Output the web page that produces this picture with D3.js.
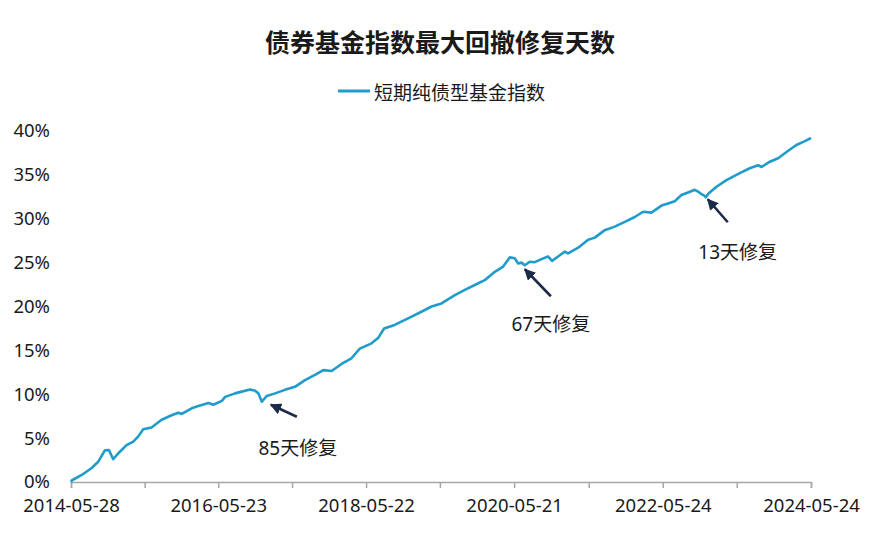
<!DOCTYPE html>
<html><head><meta charset="utf-8">
<script src="https://cdn.jsdelivr.net/npm/d3@7"></script>
<style>body{margin:0;background:#fff;}svg{display:block;}</style>
</head><body>
<script>
const titleText = "债券基金指数最大回撤修复天数";
const seriesName = "短期纯债型基金指数";
const dates = ["2014-05-28","2014-06-02","2014-07-20","2014-09-07","2014-10-09","2014-11-11","2014-12-01","2014-12-22","2015-01-24","2015-02-26","2015-03-31","2015-04-25","2015-05-19","2015-06-29","2015-08-18","2015-10-06","2015-11-08","2015-11-25","2016-01-13","2016-02-15","2016-04-05","2016-04-29","2016-06-10","2016-06-26","2016-08-14","2016-09-16","2016-10-27","2016-11-21","2016-12-07","2016-12-24","2017-01-17","2017-02-27","2017-04-17","2017-06-05","2017-07-25","2017-09-12","2017-10-23","2017-12-03","2018-01-21","2018-03-11","2018-04-21","2018-06-18","2018-07-20","2018-08-19","2018-10-10","2018-12-15","2019-02-19","2019-04-10","2019-05-29","2019-08-03","2019-09-21","2019-11-09","2019-12-28","2020-02-16","2020-03-28","2020-04-30","2020-05-24","2020-06-10","2020-06-26","2020-07-13","2020-08-06","2020-08-31","2020-10-03","2020-11-04","2020-11-24","2020-12-24","2021-01-26","2021-02-11","2021-04-02","2021-05-21","2021-06-23","2021-08-11","2021-09-29","2021-11-18","2022-01-06","2022-02-16","2022-03-29","2022-05-18","2022-06-19","2022-07-22","2022-08-24","2022-09-26","2022-10-29","2022-11-14","2022-12-01","2022-12-17","2022-12-22","2023-01-06","2023-02-13","2023-04-03","2023-06-08","2023-07-27","2023-09-06","2023-09-23","2023-11-03","2023-12-14","2024-01-24","2024-03-13","2024-04-24","2024-05-24"];
const values = [0.0,0.2,0.8,1.6,2.3,3.6,3.65,2.6,3.45,4.2,4.6,5.2,6.0,6.2,7.1,7.6,7.9,7.75,8.4,8.65,9.0,8.8,9.25,9.7,10.1,10.3,10.55,10.4,10.1,9.15,9.8,10.1,10.5,10.85,11.6,12.2,12.75,12.65,13.45,14.1,15.2,15.8,16.4,17.5,17.9,18.65,19.4,20.0,20.35,21.3,21.9,22.45,23.0,23.95,24.55,25.6,25.5,24.9,25.0,24.7,25.1,25.05,25.4,25.7,25.2,25.7,26.25,26.05,26.7,27.6,27.85,28.7,29.1,29.65,30.2,30.8,30.7,31.5,31.75,32.0,32.7,33.0,33.3,33.1,32.8,32.6,32.45,32.9,33.65,34.4,35.2,35.75,36.1,35.9,36.5,36.9,37.6,38.4,38.85,39.2];
const xTickDates = ["2014-05-28","2015-05-26","2016-05-23","2017-05-22","2018-05-22","2019-05-21","2020-05-21","2021-05-24","2022-05-24","2023-05-24","2024-05-24"];
const xTickLabels = ["2014-05-28","","2016-05-23","","2018-05-22","","2020-05-21","","2022-05-24","","2024-05-24"];
const yTicks = [0,5,10,15,20,25,30,35,40];
const annDates = ["2016-12-24","2020-07-13","2022-12-22"];
const annValues = [9.15,24.7,32.45];
const annLabels = ["85天修复","67天修复","13天修复"];

const W = 880, H = 536;
const m = {left:71, right:69, top:131, bottom:54};
const parse = d3.timeParse("%Y-%m-%d");
const font = "'Noto Sans','Noto Sans CJK SC',sans-serif";
const cjk = "'Noto Sans CJK SC','Noto Sans',sans-serif";

const svg = d3.select("body").append("svg").attr("width",W).attr("height",H);

const x = d3.scaleTime().domain([parse(dates[0]), parse(dates[dates.length-1])]).range([m.left, W-m.right]);
const y = d3.scaleLinear().domain([0,40]).range([H-m.bottom, m.top]);

svg.append("text").attr("x",440).attr("y",41).attr("text-anchor","middle").attr("dominant-baseline","central")
  .style("font-family",cjk).style("font-size","25px").style("font-weight","700").attr("fill","#1a1a1a").text(titleText);

const lg = svg.append("g");
lg.append("line").attr("x1",338).attr("x2",370).attr("y1",91).attr("y2",91).attr("stroke","#1f9ccb").attr("stroke-width",3);
lg.append("text").attr("x",374).attr("y",91).attr("dominant-baseline","central")
  .style("font-family",cjk).style("font-size","19px").attr("fill","#1a1a1a").text(seriesName);

// x axis
const xAxis = d3.axisBottom(x).tickValues(xTickDates.map(parse)).tickSize(6)
  .tickFormat((d,i)=>xTickLabels[i]);
const gx = svg.append("g").attr("transform",`translate(0,${H-m.bottom})`).call(xAxis);
gx.select(".domain").attr("stroke","#a6a6a6").attr("stroke-width",1.5);
gx.selectAll(".tick line").attr("stroke","#a6a6a6").attr("stroke-width",1.5);
gx.selectAll(".tick text").attr("y",24).attr("dy","0.32em").style("font-family",font).style("font-size","18.5px").attr("fill","#1a1a1a");

// y axis
const yAxis = d3.axisLeft(y).tickValues(yTicks).tickSize(0).tickFormat(d=>d+"%");
const gy = svg.append("g").attr("transform",`translate(${m.left},0)`).call(yAxis);
gy.select(".domain").remove();
gy.selectAll(".tick text").attr("x",-21).style("font-family",font).style("font-size","18.5px").attr("fill","#1a1a1a");

// line
const data = dates.map((d,i)=>({date:parse(d), v:values[i]}));
svg.append("path").datum(data).attr("fill","none").attr("stroke","#1f9ccb").attr("stroke-width",2.6)
  .attr("stroke-linejoin","round")
  .attr("d", d3.line().x(d=>x(d.date)).y(d=>y(d.v)));

// annotations
const defs = svg.append("defs");
defs.append("marker").attr("id","ah").attr("viewBox","0 0 10 10").attr("refX",9).attr("refY",5)
  .attr("markerWidth",4.4).attr("markerHeight",4.4).attr("orient","auto-start-reverse")
  .append("path").attr("d","M0,0 L10,5 L0,10 Z").attr("fill","#1c2b4a");
const tipOff = [[9,3],[0,4],[2,2]];
const tailOff = [[35,15],[26,31],[22,25]];
const labOff = [[36,46],[26,59],[32,55]];
annDates.forEach((d,i)=>{
  const px = x(parse(d)), py = y(annValues[i]);
  svg.append("line").attr("x1",px+tailOff[i][0]).attr("y1",py+tailOff[i][1])
    .attr("x2",px+tipOff[i][0]).attr("y2",py+tipOff[i][1])
    .attr("stroke","#1c2b4a").attr("stroke-width",2.6).attr("marker-end","url(#ah)");
  svg.append("text").attr("x",px+labOff[i][0]).attr("y",py+labOff[i][1]).attr("text-anchor","middle")
    .attr("dominant-baseline","central").style("font-family",font).style("font-size","19px").attr("fill","#1a1a1a").text(annLabels[i]);
});
</script>
</body></html>
